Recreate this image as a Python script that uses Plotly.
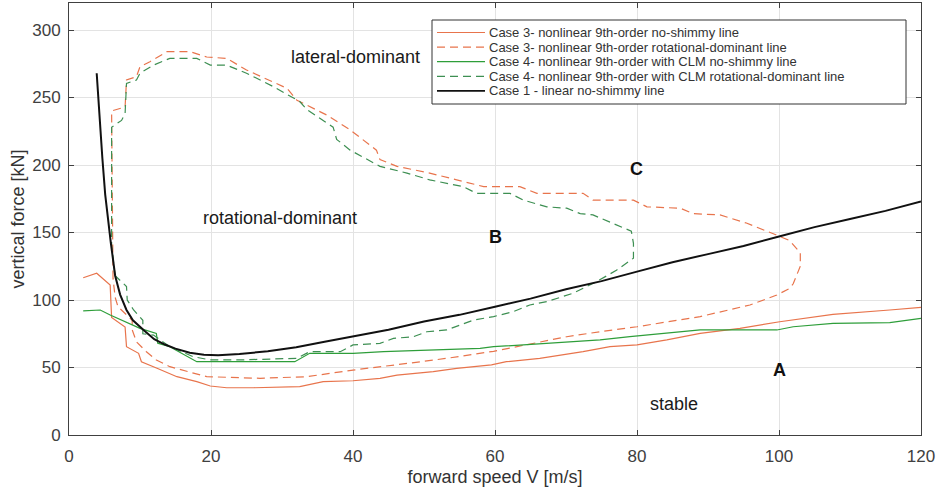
import plotly.graph_objects as go

# ---------------- data ----------------
c1_x = [3.9, 4.3, 4.7, 5.1, 5.5, 5.9, 6.5, 7.2, 8.1, 9.0, 10.5, 12.0, 13.5, 15.0, 17.0, 19.0, 21.0, 24.0,
        28.0, 32.0, 36.0, 40.0, 45.0, 50.0, 55.0, 60.0, 65.0, 70.0, 75.0, 80.0, 85.0, 90.0, 95.0, 100.0,
        105.0, 110.0, 115.0, 120.0]
c1_y = [268, 235, 205, 178, 158, 142, 118, 104, 92.6, 85, 77.8, 71, 67, 64, 61, 59.5, 59, 60,
        62, 65, 69, 73, 78, 84, 89, 95, 101, 108, 114, 121, 128, 134, 140, 147,
        154, 160, 166, 173]

c3_ns_x = [2.0, 3.9, 5.8, 6.0, 7.9, 8.1, 9.8, 10.2, 12.4, 15.2, 18.0, 19.9, 22.2, 26.0, 32.5, 35.8, 40.0,
           43.8, 46.2, 51.3, 54.6, 59.5, 61.6, 66.3, 72.4, 76.2, 80.0, 84.2, 88.9, 94.5, 100.1, 107.6,
           115.6, 120.0]
c3_ns_y = [116.5, 119.8, 111, 87, 80, 65.4, 60.5, 54.3, 49.4, 43.2, 39.5, 36.3, 35, 35, 35.8, 39.5, 40.2,
           42, 44.4, 46.9, 49.4, 51.9, 54.3, 56.8, 61.7, 65.4, 66.7, 70.4, 75.3, 79, 83.9, 89.4,
           92.6, 94.6]

c3_rd_x = [6.2, 6.0, 6.0, 7.9, 8.1, 9.5, 10.0, 11.4, 13.8, 17.0, 19.4, 22.2, 25.0, 30.7, 32.1, 36.3, 39.6,
           43.3, 43.8, 46.2, 50.8, 54.6, 58.4, 63.5, 65.9, 72.4, 73.8, 79.5, 81.4, 86.1, 87.9, 91.7,
           95.4, 99.7, 101.5, 103.0, 103.0, 102.0, 101.5, 99.7, 95.9, 88.9, 80.0, 74.8, 70.1, 59.8,
           53.2, 47.6, 40.0, 33.5, 26.9, 19.4, 16.6, 14.2, 12.3, 10.9, 9.5, 8.9, 8.9, 6.9, 6.5, 6.2]
c3_rd_y = [116, 200, 240, 243, 263, 265.4, 272.8, 276.5, 284, 284, 280, 279, 270.4, 256.8, 248, 237, 226,
           211, 204, 199, 194, 189, 184, 184, 179, 179, 174, 174, 169, 168, 164, 163,
           157, 148, 144, 135, 125, 112, 108.6, 103.7, 96.3, 87.7, 80.2, 76.5, 72.8, 62,
           56.8, 53, 48.1, 43.2, 42, 43.2, 46.9, 50.6, 55.6, 61.7, 69, 78, 85, 95, 102, 116]

c4_ns_x = [2.0, 4.4, 5.8, 10.0, 12.3, 12.5, 14.2, 18.0, 24.1, 31.8, 33.9, 40.0, 44.3, 52.3, 57.9, 59.8,
           70.1, 74.8, 79.0, 88.9, 99.7, 102.0, 107.6, 115.6, 120.0]
c4_ns_y = [91.9, 92.6, 88.9, 79, 75.3, 68, 65.4, 54.3, 54.3, 54.3, 60.5, 60.5, 61.7, 63, 64.2, 65.4,
           69.1, 70.4, 72.8, 77.8, 77.8, 80.2, 82.7, 83.2, 86.4]

c4_rd_x = [6.5, 6.0, 6.0, 7.4, 7.9, 8.1, 9.5, 10.0, 11.9, 14.2, 18.0, 19.9, 22.2, 25.0, 28.8, 32.5, 33.5,
           37.2, 37.7, 39.6, 43.8, 47.6, 50.8, 55.5, 57.4, 62.1, 64.0, 67.3, 70.1, 72.0, 73.8, 79.2,
           79.5, 79.5, 77.1, 74.3, 71.0, 67.3, 64.9, 62.6, 59.8, 57.0, 53.2, 50.4, 48.5, 45.7, 43.8,
           40.0, 38.2, 33.9, 32.1, 24.0, 19.9, 17.5, 14.2, 11.9, 10.4, 10.4, 9.1, 8.2, 8.1, 6.5]
c4_rd_y = [118, 140, 228, 233, 238, 260.5, 263, 268, 274, 279, 279, 274, 274, 268, 258, 247, 241,
           228, 219, 211, 199, 194, 189, 184, 179, 179, 174, 169, 168, 164, 163, 151,
           142, 131, 122, 113.6, 105, 98.8, 96.3, 91.4, 87.7, 85.2, 77.8, 76.5, 72.8, 71.6, 67.9,
           66.7, 61.7, 61.7, 56.8, 55.6, 55.6, 58, 65.4, 74, 75, 85, 92.6, 100, 110, 118]

series_names = [
    "Case 3- nonlinear 9th-order no-shimmy line",
    "Case 3- nonlinear 9th-order rotational-dominant line",
    "Case 4- nonlinear 9th-order with CLM no-shimmy line",
    "Case 4- nonlinear 9th-order with CLM rotational-dominant line",
    "Case 1 - linear no-shimmy line",
]

x_ticks = [0, 20, 40, 60, 80, 100, 120]
y_ticks = [0, 50, 100, 150, 200, 250, 300]

region_labels = ["lateral-dominant", "rotational-dominant", "stable"]
region_x = [40.4, 29.7, 85.2]
region_y = [280, 160.7, 22.9]
point_labels = ["A", "B", "C"]
point_x = [100, 60, 79.9]
point_y = [48, 147, 197]

# ---------------- styling ----------------
ORANGE = "#E8744C"
GREEN = "#2E9E3A"
GREEN_D = "#3D8F52"
BLACK = "#111111"
FONT = "Liberation Sans, Arial, sans-serif"

series_x = [c3_ns_x, c3_rd_x, c4_ns_x, c4_rd_x, c1_x]
series_y = [c3_ns_y, c3_rd_y, c4_ns_y, c4_rd_y, c1_y]
series_color = [ORANGE, ORANGE, GREEN, GREEN_D, BLACK]
series_dash = ["solid", "8px,5px", "solid", "8px,5px", "solid"]
series_width = [1.2, 1.2, 1.2, 1.2, 2.0]

fig = go.Figure()
for xs, ys, nm, col, ds, w in zip(series_x, series_y, series_names, series_color, series_dash, series_width):
    fig.add_trace(go.Scatter(x=xs, y=ys, mode="lines", name=nm,
                             line=dict(color=col, width=w, dash=ds)))

for t, x, y in zip(region_labels, region_x, region_y):
    fig.add_annotation(x=x, y=y, text=t, showarrow=False,
                       font=dict(family=FONT, size=18, color="#1a1a1a"))
for t, x, y in zip(point_labels, point_x, point_y):
    fig.add_annotation(x=x, y=y, text="<b>" + t + "</b>", showarrow=False,
                       font=dict(family=FONT, size=18, color="#111111"))

# ---------------- compact legend box (paper coordinates) ----------------
PL, PT, PW, PH = 69, 3, 852, 432          # plot area in pixels
def px_x(p):
    return (p - PL) / PW
def px_y(p):
    return (PT + PH - p) / PH

box_l, box_t, box_r, box_b = 432, 20, 906, 104
fig.add_shape(type="rect", xref="paper", yref="paper",
              x0=px_x(box_l), x1=px_x(box_r), y0=px_y(box_b), y1=px_y(box_t),
              line=dict(color="#333333", width=1), fillcolor="white", layer="above")
row0, row_step = 32.5, 14.6
for i, (nm, col, ds, w) in enumerate(zip(series_names, series_color, series_dash, series_width)):
    ry = row0 + i * row_step
    fig.add_shape(type="line", xref="paper", yref="paper",
                  x0=px_x(437), x1=px_x(485), y0=px_y(ry), y1=px_y(ry),
                  line=dict(color=col, width=min(w, 1.6), dash=ds), layer="above")
    fig.add_annotation(xref="paper", yref="paper", x=px_x(487), y=px_y(ry),
                       xanchor="left", yanchor="middle", text=nm, showarrow=False,
                       font=dict(family=FONT, size=13, color="#333333"))

axis_common = dict(showgrid=True, gridcolor="#E3E3E3", gridwidth=1, zeroline=False,
                   showline=True, linecolor="#404040", linewidth=1, mirror="ticks",
                   ticks="inside", ticklen=5, tickcolor="#404040",
                   tickfont=dict(family=FONT, size=17, color="#404040"))

fig.update_layout(
    width=938, height=494,
    margin=dict(l=PL, r=938 - PL - PW, t=PT, b=494 - PT - PH),
    paper_bgcolor="white", plot_bgcolor="white",
    font=dict(family=FONT),
    showlegend=False,
    xaxis=dict(range=[0, 120], tickvals=x_ticks, ticklabelstandoff=6,
               title=dict(text="forward speed V [m/s]", standoff=4,
                          font=dict(family=FONT, size=18, color="#333333")),
               **axis_common),
    yaxis=dict(range=[0, 320], tickvals=y_ticks, ticklabelstandoff=4,
               title=dict(text="vertical force [kN]", standoff=2,
                          font=dict(family=FONT, size=18, color="#333333")),
               **axis_common),
)

fig.write_html("out.html")
